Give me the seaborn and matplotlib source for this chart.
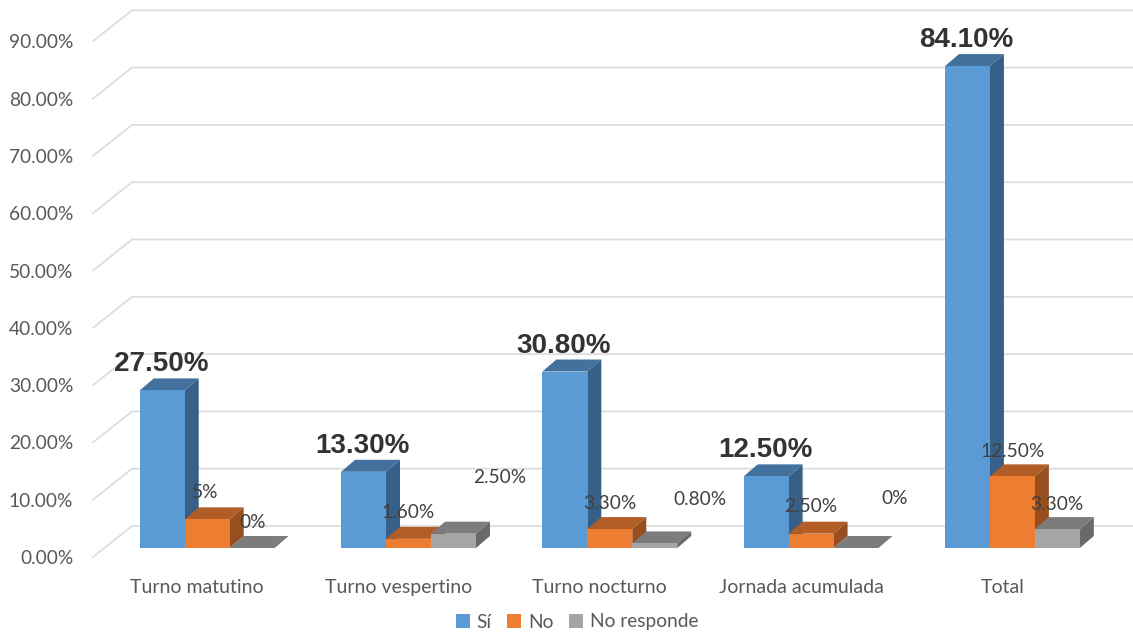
import matplotlib
matplotlib.use("Agg")
import matplotlib.pyplot as plt
from matplotlib.patches import Polygon, Patch
from matplotlib.transforms import Affine2D
import pandas as pd
import seaborn as sns

# Survey results per shift (percent)
categories = ["Turno matutino", "Turno vespertino", "Turno nocturno", "Jornada acumulada", "Total"]
si_values = [27.5, 13.3, 30.8, 12.5, 84.1]
no_values = [5.0, 1.6, 3.3, 2.5, 12.5]
no_responde_values = [0.0, 2.5, 0.8, 0.0, 3.3]
series_names = ["Sí", "No", "No responde"]
y_ticks = [0, 10, 20, 30, 40, 50, 60, 70, 80, 90]

W, H = 1133, 633
PX_CAT = 201.3      # pixels between categories
PX_PCT = 5.73       # pixels per percentage point
LEFT, BASE, TOP = 94, 548, 10
FIRST_CENTER = 207.2

FRONT_COLORS = ["#5B9BD5", "#ED7D31", "#A5A5A5"]
TOP_COLORS = ["#41719C", "#B25D25", "#7C7C7C"]
SIDE_COLORS = ["#376088", "#974F1F", "#696969"]
TEXT = "#595959"
GRID = "#DDDDDD"
DEPTH_X, DEPTH_Y = 14 / PX_CAT, 12 / PX_PCT

sns.set_theme(style="white")
plt.rcParams["font.family"] = ["Lato", "DejaVu Sans"]

df = pd.DataFrame({
    "categoria": categories * 3,
    "serie": [n for n in series_names for _ in categories],
    "valor": si_values + no_values + no_responde_values,
})

fig = plt.figure(figsize=(W / 100, H / 100), dpi=100, facecolor="white")
ax = fig.add_axes([LEFT / W, (H - BASE) / H, (W - LEFT) / W, (BASE - TOP) / H])

sns.barplot(data=df, x="categoria", y="valor", hue="serie", order=categories,
            hue_order=series_names, palette=FRONT_COLORS, saturation=1,
            width=0.67, gap=0, legend=False, linewidth=0, ax=ax)

ax.set_xlim((LEFT - FIRST_CENTER) / PX_CAT, (W - FIRST_CENTER) / PX_CAT)
ax.set_ylim(0, (BASE - TOP) / PX_PCT)
ax.set_xlabel("")
ax.set_ylabel("")
sns.despine(ax=ax, left=True, bottom=True, top=True, right=True)
ax.patch.set_alpha(0)


def px_x(px):
    return (px - FIRST_CENTER) / PX_CAT


# Perspective gridlines: a diagonal on the floor edge plus a line along the back wall
back = 22 / PX_PCT
front = -9 / PX_PCT
for v in y_ticks:
    ax.plot([px_x(93), px_x(132), px_x(W)], [v + front, v + back, v + back],
            color=GRID, lw=1.3, clip_on=False, zorder=0.5, solid_joinstyle="miter")

# Extrude each bar with a top face and a side face
for s, container in enumerate(ax.containers):
    z = 3 + s
    for bar in container:
        bar.set_zorder(z + 0.2)
        x0, w, h = bar.get_x(), bar.get_width(), bar.get_height()
        x1 = x0 + w
        ax.add_patch(Polygon([(x0, h), (x1, h), (x1 + DEPTH_X, h + DEPTH_Y), (x0 + DEPTH_X, h + DEPTH_Y)],
                             closed=True, fc=TOP_COLORS[s], ec="none", zorder=z, clip_on=False))
        if h > 0:
            ax.add_patch(Polygon([(x1, 0), (x1 + DEPTH_X, DEPTH_Y), (x1 + DEPTH_X, h + DEPTH_Y), (x1, h)],
                                 closed=True, fc=SIDE_COLORS[s], ec="none", zorder=z, clip_on=False))


def fmt(v):
    return f"{v:.0f}%" if float(v).is_integer() and v < 10 else f"{v:.2f}%"


# Value labels, nudged in pixels from the bar's top centre
NUDGES = [
    [(-1, 26)] * 5,
    [(-2, 27), (0, 26), (0, 26), (0, 27), (0, 25)],
    [(0, 26), (46, 56), (45, 44), (39, 49), (0, 25)],
]
for s, container in enumerate(ax.containers):
    for b, bar in enumerate(container):
        dx, dy = NUDGES[s][b]
        cx = bar.get_x() + bar.get_width() / 2
        if s == 0:
            kw = dict(fontsize=20, fontweight="bold", color="#333333", family="Liberation Sans")
        else:
            kw = dict(fontsize=13.8, color="#404040")
        ax.annotate(fmt(bar.get_height()), (cx, bar.get_height()), xytext=(dx * 0.72, dy * 0.72),
                    textcoords="offset points", ha="center", va="center", zorder=10,
                    annotation_clip=False, **kw)

# Tick labels sit on the front edge of the floor, not on the bars' plane
ax.set_yticks(y_ticks)
ax.set_yticklabels([f"{v:.2f}%" for v in y_ticks])
ax.tick_params(axis="y", length=0, pad=15, labelsize=13.8, labelcolor=TEXT)
ax.tick_params(axis="x", length=0, pad=22, labelsize=14, labelcolor=TEXT)
for lab in ax.get_yticklabels():
    lab.set_transform(lab.get_transform() + Affine2D().translate(0, -9))
for lab in ax.get_xticklabels():
    lab.set_transform(lab.get_transform() + Affine2D().translate(-10, 0))

handles = [Patch(fc=c, ec="none", label=n) for c, n in zip(FRONT_COLORS, series_names)]
fig.legend(handles=handles, loc="center", bbox_to_anchor=(577 / W, (H - 622) / H), ncol=3,
           frameon=False, fontsize=13.8, labelcolor=TEXT, handlelength=0.75, handleheight=0.75,
           handletextpad=0.35, columnspacing=0.8)

fig.savefig("out.png", dpi=100)
